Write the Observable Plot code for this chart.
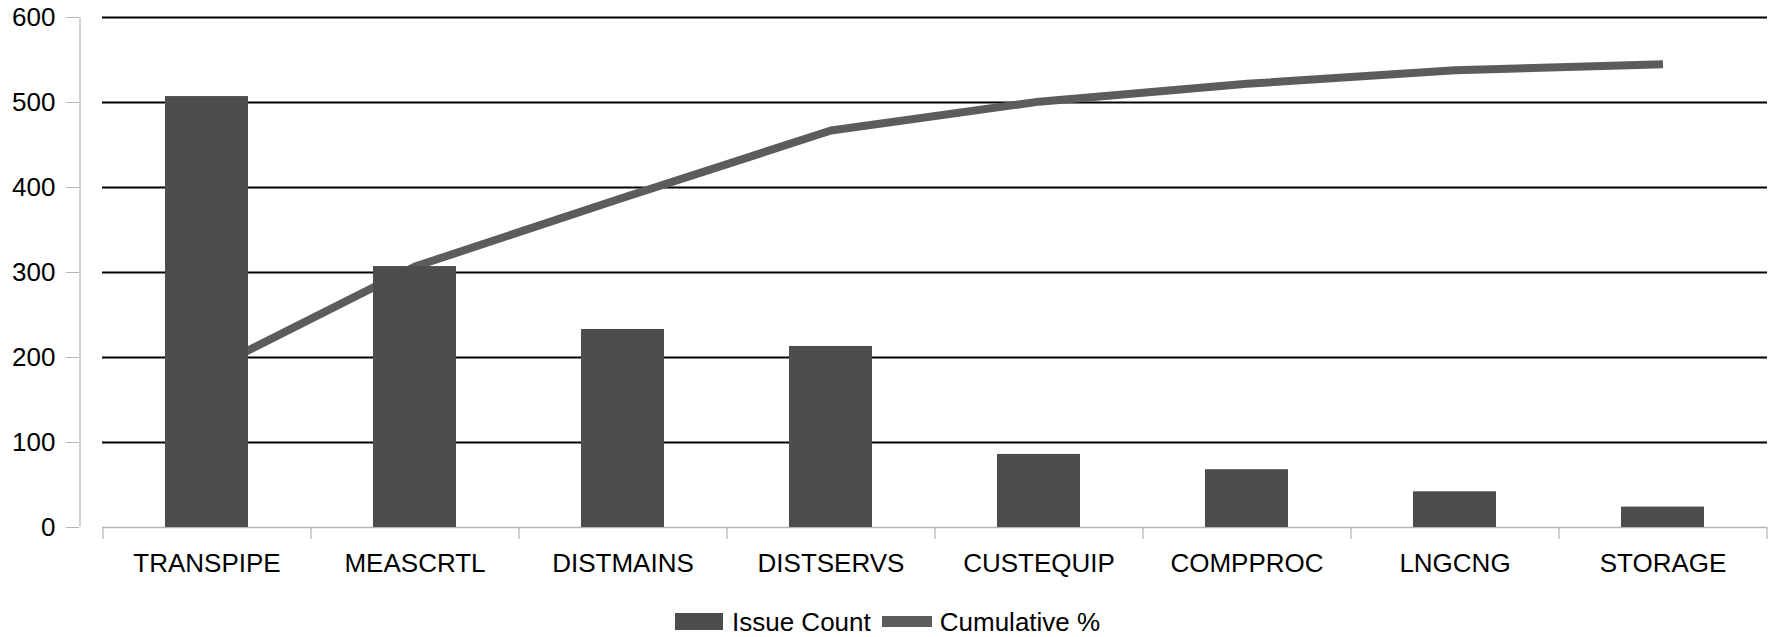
<!DOCTYPE html>
<html>
<head>
<meta charset="utf-8">
<script src="https://cdn.jsdelivr.net/npm/d3@7"></script>
<script src="https://cdn.jsdelivr.net/npm/@observablehq/plot@0.6"></script>
<style>
  html, body { margin: 0; padding: 0; background: #fff; }
  #chart svg { display: block; }
  .legend {
    box-sizing: content-box;
    height: 31px; padding-top: 16px;
    display: flex; align-items: center;
    margin-left: 675px;
    font-family: "Liberation Sans", Arial, sans-serif; font-size: 26px; color: #000;
    line-height: 26px;
  }
  .sw { display: inline-block; }
</style>
</head>
<body>
<div id="chart"></div>
<div class="legend">
  <span class="sw" style="width:48px;height:17px;background:#4d4d4d;margin-right:9px"></span>
  <span style="margin-right:11px">Issue Count</span>
  <span class="sw" style="width:50px;height:11px;background:#5c5c5c;margin-right:8px"></span>
  <span>Cumulative %</span>
</div>
<script>
const categories = ["TRANSPIPE", "MEASCRTL", "DISTMAINS", "DISTSERVS", "CUSTEQUIP", "COMPPROC", "LNGCNG", "STORAGE"];
const issueCount = [507, 307, 233, 213, 86, 68, 42, 24];
const cumulative = [184, 307, 388, 467, 501, 522, 538, 545];
const yTicks = [0, 100, 200, 300, 400, 500, 600];

const rows = categories.map((c, i) => ({category: c, count: issueCount[i], cumulative: cumulative[i]}));
const gridTicks = yTicks.filter(t => t > 0);

const chart = Plot.plot({
  width: 1771,
  height: 590,
  marginTop: 17,
  marginBottom: 63,
  marginLeft: 102,
  marginRight: 4,
  style: {fontFamily: "Liberation Sans, Arial, sans-serif", fontSize: "26px", color: "#000", background: "#fff"},
  x: {domain: categories, paddingInner: 0.6, paddingOuter: 0.3, label: null},
  y: {domain: [0, 600], ticks: yTicks, label: null},
  marks: [
    Plot.ruleY(gridTicks, {stroke: "#000", strokeWidth: 2}),
    Plot.ruleY([0], {stroke: "#b4b4b4", strokeWidth: 1.5}),
    Plot.ruleX(categories, {x: d => d, y1: 0, y2: -14, dx: -104, stroke: "#b4b4b4", strokeWidth: 1.2}),
    Plot.ruleX([categories[categories.length - 1]], {x: d => d, y1: 0, y2: -14, dx: 104, stroke: "#b4b4b4", strokeWidth: 1.2}),
    Plot.lineY(rows, {x: "category", y: "cumulative", stroke: "#5c5c5c", strokeWidth: 8, strokeLinecap: "butt", strokeLinejoin: "miter"}),
    Plot.barY(rows, {x: "category", y: "count", fill: "#4d4d4d"}),
    Plot.ruleX([categories[0]], {x: d => d, y1: 0, y2: 600, dx: -127, stroke: "#b4b4b4", strokeWidth: 1.2}),
    Plot.axisY({ticks: yTicks, tickSize: 13, tickPadding: 11, dx: -23, stroke: "#b4b4b4", fill: "#000", fontSize: 26, label: null}),
    Plot.axisX({tickSize: 0, tickPadding: 26, fontSize: 26, fill: "#000", label: null})
  ]
});
document.getElementById("chart").appendChild(chart);
</script>
</body>
</html>
